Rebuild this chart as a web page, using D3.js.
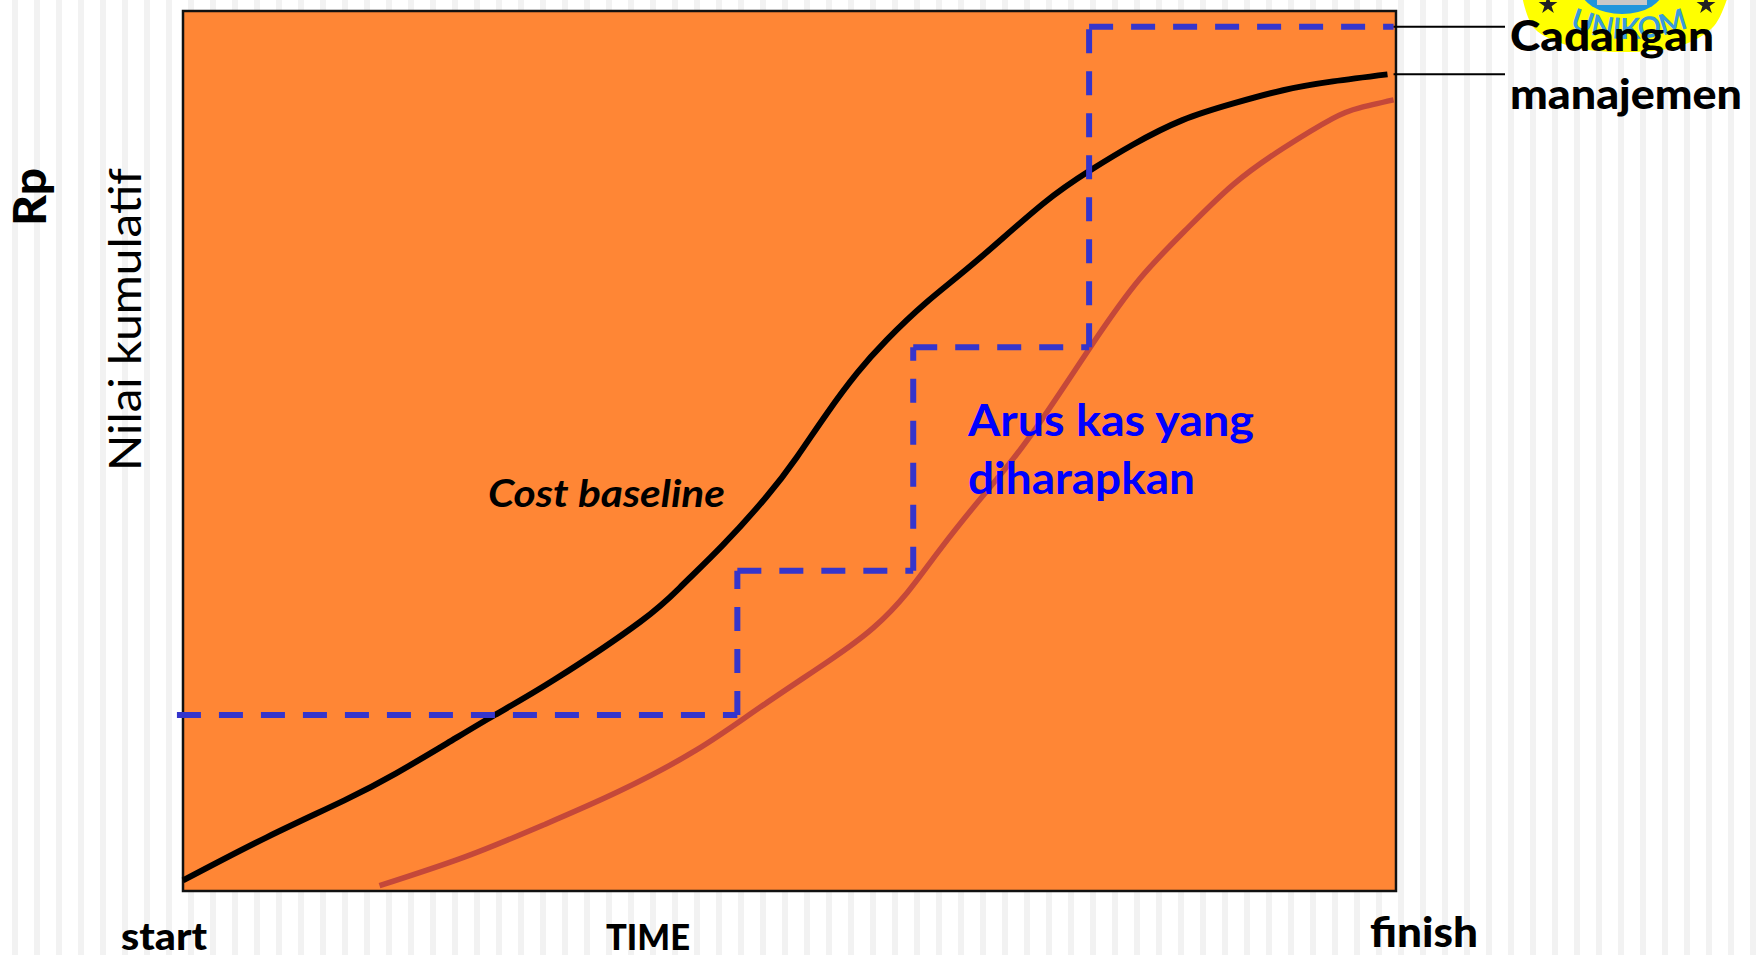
<!DOCTYPE html>
<html>
<head>
<meta charset="utf-8">
<script src="https://cdn.jsdelivr.net/npm/d3@7"></script>
<style>
html, body { margin: 0; padding: 0; background: #fff; overflow: hidden; }
text { font-family: Lato, "Open Sans", sans-serif; }
</style>
</head>
<body>
<div id="chart"></div>
<script>
// values, both axes in percent of the plot box
let baselineX = [0, 6.9, 13.3, 17.6, 21.8, 25.7, 30.6, 37.7, 41.2, 44.5, 48.1, 50.6, 53.1, 55.6, 58, 61.3, 65.5, 70.9, 74.8, 78.3, 82.4, 86.6, 90.7, 94.8, 99.3];
let baselineY = [1.2, 6.1, 10.3, 13.4, 16.8, 20, 24, 30.6, 34.8, 39.3, 44.8, 49.3, 54.3, 58.9, 62.6, 66.9, 71.7, 78.1, 81.9, 84.8, 87.6, 89.5, 91, 92, 92.8];
let spendX = [16.2, 23.3, 29.7, 35.9, 42.3, 47.6, 53.3, 56.9, 59.7, 62.4, 66, 69.8, 74.8, 78.9, 82.8, 86.6, 90.7, 94.8, 97, 99.8];
let spendY = [0.6, 3.9, 7.5, 11.3, 16, 20.9, 26.2, 29.9, 33.9, 38.8, 45, 51.6, 61.8, 69.6, 75.3, 80.3, 84.4, 87.8, 89, 89.9];
let cashX = [-0.5, 45.7, 45.7, 60.2, 60.2, 74.7, 74.7, 99.8];
let cashY = [20, 20, 36.4, 36.4, 61.8, 61.8, 98.2, 98.2];
let leaderY = [98.2, 92.8];

let width = 1758, height = 955;
let margin = { top: 11, left: 183, right: 362, bottom: 64 };

let svg = d3.select("#chart").append("svg")
    .attr("width", width)
    .attr("height", height);

let xScale = d3.scaleLinear().domain([0, 100]).range([margin.left, width - margin.right]);
let yScale = d3.scaleLinear().domain([0, 100]).range([height - margin.bottom, margin.top]);

// slide background stripes
svg.selectAll("rect.stripe")
    .data(d3.range(12, width, 22))
    .enter().append("rect")
    .attr("class", "stripe")
    .attr("x", d => d)
    .attr("y", 0)
    .attr("width", 6)
    .attr("height", height)
    .attr("fill", "#f2f2f2");

// logo, cut off by the top edge
let logo = svg.append("g");
logo.append("path")
    .attr("d", d3.line().curve(d3.curveCatmullRom)([[1522, -4], [1534, 28], [1570, 46], [1622, 52], [1680, 46], [1714, 26], [1728, -4]]))
    .attr("fill", "#ffff00");
logo.append("ellipse").attr("cx", 1622).attr("cy", -12).attr("rx", 42).attr("ry", 26).attr("fill", "#1f96dc");
logo.append("rect").attr("x", 1597).attr("y", -2).attr("width", 50).attr("height", 7).attr("fill", "#c8c8c8");
logo.selectAll("path.star")
    .data([[1548, 5], [1706, 5]])
    .enter().append("path")
    .attr("class", "star")
    .attr("d", d3.symbol(d3.symbolStar, 110))
    .attr("transform", d => "translate(" + d + ")")
    .attr("fill", "#222");
logo.append("path").attr("id", "logoArc").attr("fill", "none")
    .attr("d", "M1562,24 Q1627,54 1696,24");
logo.append("text")
    .attr("fill", "#3a9bdc")
    .style("font-size", "29px")
    .style("font-weight", 700)
    .append("textPath")
    .attr("href", "#logoArc")
    .attr("startOffset", "50%")
    .attr("text-anchor", "middle")
    .text("UNIKOM");

// plot box
svg.append("rect")
    .attr("x", xScale(0))
    .attr("y", yScale(100))
    .attr("width", xScale(100) - xScale(0))
    .attr("height", yScale(0) - yScale(100))
    .attr("fill", "#ff8635")
    .attr("stroke", "#111")
    .attr("stroke-width", 2.5);

let curve = d3.line().x(d => xScale(d[0])).y(d => yScale(d[1])).curve(d3.curveNatural);
let straight = d3.line().x(d => xScale(d[0])).y(d => yScale(d[1]));

svg.append("path")
    .attr("d", curve(d3.zip(spendX, spendY)))
    .attr("fill", "none")
    .attr("stroke", "#c4483a")
    .attr("stroke-width", 5.5);

svg.append("path")
    .attr("d", curve(d3.zip(baselineX, baselineY)))
    .attr("fill", "none")
    .attr("stroke", "#000")
    .attr("stroke-width", 6);

// the dash pattern starts over on each step, so one path per segment
svg.selectAll("path.cash")
    .data(d3.pairs(d3.zip(cashX, cashY)))
    .enter().append("path")
    .attr("class", "cash")
    .attr("d", d => straight(d))
    .attr("fill", "none")
    .attr("stroke", "#3535cc")
    .attr("stroke-width", 6)
    .attr("stroke-dasharray", "24,18");

// leader lines to the label
svg.selectAll("line.leader")
    .data(leaderY)
    .enter().append("line")
    .attr("class", "leader")
    .attr("x1", xScale(99.8))
    .attr("x2", 1505)
    .attr("y1", d => yScale(d))
    .attr("y2", d => yScale(d))
    .attr("stroke", "#000")
    .attr("stroke-width", 2);

let labels = [
    { t: "Cadangan", x: 1510, y: 51, w: 204, size: 42, weight: 900, fill: "#000" },
    { t: "manajemen", x: 1510, y: 109, w: 232, size: 42, weight: 900, fill: "#000" },
    { t: "start", x: 121, y: 950, w: 86, size: 38, weight: 900, fill: "#000" },
    { t: "TIME", x: 606, y: 950, w: 84, size: 36, weight: 900, fill: "#000" },
    { t: "finish", x: 1370, y: 947, w: 108, size: 41, weight: 900, fill: "#000" },
    { t: "Cost baseline", x: 488, y: 507, w: 237, size: 38, weight: 700, style: "italic", fill: "#000" },
    { t: "Arus kas yang", x: 968, y: 436, w: 286, size: 44, weight: 700, fill: "#0000ff" },
    { t: "diharapkan", x: 968, y: 494, w: 227, size: 44, weight: 700, fill: "#0000ff" }
];

svg.selectAll("text.label")
    .data(labels)
    .enter().append("text")
    .attr("class", "label")
    .attr("x", d => d.x)
    .attr("y", d => d.y)
    .attr("textLength", d => d.w)
    .attr("lengthAdjust", "spacingAndGlyphs")
    .style("font-size", d => d.size + "px")
    .style("font-weight", d => d.weight)
    .style("font-style", d => d.style || "normal")
    .attr("fill", d => d.fill)
    .text(d => d.t);

// rotated axis titles
svg.append("text")
    .attr("transform", "translate(46,226) rotate(-90)")
    .attr("textLength", 58)
    .attr("lengthAdjust", "spacingAndGlyphs")
    .style("font-size", "46px")
    .style("font-weight", 900)
    .text("Rp");

svg.append("text")
    .attr("transform", "translate(141,471) rotate(-90)")
    .attr("textLength", 303)
    .attr("lengthAdjust", "spacingAndGlyphs")
    .style("font-size", "44px")
    .text("Nilai kumulatif");
</script>
</body>
</html>
